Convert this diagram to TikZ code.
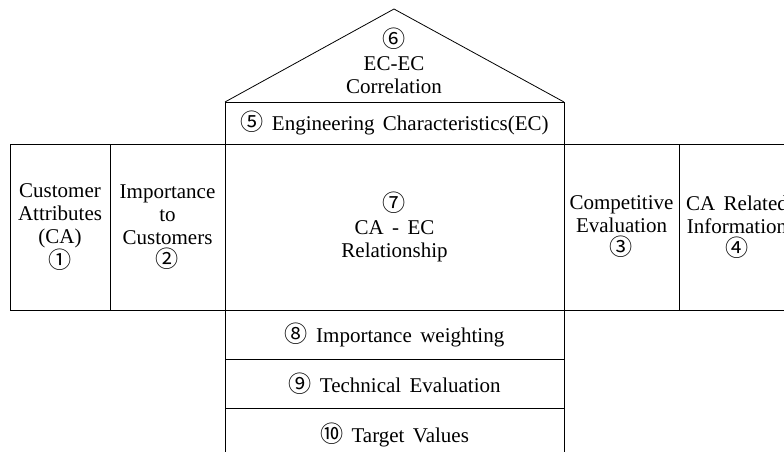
\documentclass[tikz,border=0pt]{standalone}
\usepackage{fontspec}
\setmainfont{Liberation Serif}[WordSpace=1.6]
\newfontfamily\circfont{Noto Sans CJK KR}[Scale=1.1]
\newcommand\cnum[1]{{\circfont #1}}
\usetikzlibrary{positioning}

\tikzset{
  cell/.style={draw, align=center, inner sep=0pt, outer sep=0pt},
}

\begin{document}
\begin{tikzpicture}[x=1pt, y=-1pt, line width=.8pt, font=\fontsize{21}{23}\selectfont]
\useasboundingbox (0,0) rectangle (784,452);
\clip (0,0) rectangle (784,452);
% middle row of the house
\node[cell, minimum width=100pt, minimum height=166pt] (ca) at (60,227)
  {Customer\\Attributes\\(CA)\\\cnum{①}};
\node[cell, minimum width=115pt, minimum height=166pt, right=0pt of ca] (imp)
  {Importance\\to\\Customers\\\cnum{②}};
\node[cell, minimum width=339pt, minimum height=166pt, right=0pt of imp] (rel)
  {\cnum{⑦}\\CA - EC\\Relationship};
\node[cell, minimum width=115pt, minimum height=166pt, right=0pt of rel] (comp)
  {Competitive\\Evaluation\\\cnum{③}};
\node[cell, minimum width=116pt, minimum height=166pt, right=0pt of comp] (info)
  {CA Related\\Information\\\cnum{④}};
% ceiling and roof
\node[cell, minimum width=339pt, minimum height=42pt, above=0pt of rel] (ec)
  {\cnum{⑤} Engineering Characteristics(EC)};
\coordinate (apex) at (394,9);
\draw (ec.north west) -- (apex) -- (ec.north east);
\node[align=center] (corr) at (394,61) {\cnum{⑥}\\EC-EC\\Correlation};
% basement
\node[cell, minimum width=339pt, minimum height=49pt, below=0pt of rel] (wt)
  {\cnum{⑧} Importance weighting};
\node[cell, minimum width=339pt, minimum height=49pt, below=0pt of wt] (tech)
  {\cnum{⑨} Technical Evaluation};
\node[cell, minimum width=339pt, minimum height=54pt, below=0pt of tech] (target)
  {\cnum{⑩} Target Values};
\end{tikzpicture}
\end{document}
